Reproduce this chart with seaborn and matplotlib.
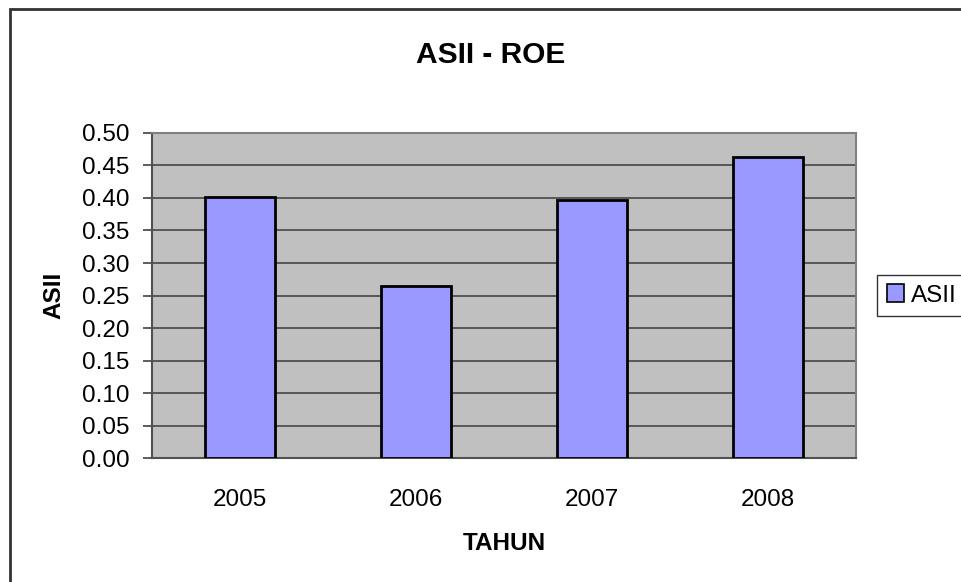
import numpy as np
import pandas as pd
import matplotlib
matplotlib.use("Agg")
import matplotlib.pyplot as plt
import seaborn as sns
from matplotlib.patches import Patch, Rectangle

# Data
years = ["2005", "2006", "2007", "2008"]
roe = [0.401, 0.264, 0.396, 0.463]
yticks = [0.00, 0.05, 0.10, 0.15, 0.20, 0.25, 0.30, 0.35, 0.40, 0.45, 0.50]

df = pd.DataFrame({"TAHUN": years, "ASII": roe})

sns.set_style("white")
plt.rcParams["font.family"] = ["Liberation Sans", "DejaVu Sans"]
plt.rcParams["text.color"] = "black"
plt.rcParams["axes.labelcolor"] = "black"
plt.rcParams["xtick.labelcolor"] = "black"
plt.rcParams["ytick.labelcolor"] = "black"

bar_color = "#9999FF"

fig = plt.figure(figsize=(9.61, 5.82), dpi=100)
ax = fig.add_axes([0.1582, 0.2122, 0.7322, 0.5598])
ax.set_facecolor("#C0C0C0")

sns.barplot(data=df, x="TAHUN", y="ASII", color=bar_color, width=0.40,
            edgecolor="black", linewidth=2, saturation=1, ax=ax, zorder=3)

ax.set_xlim(-0.5, len(years) - 0.5)
ax.set_ylim(0, 0.5)
ax.set_yticks(yticks)
ax.set_yticklabels([f"{v:.2f}" for v in yticks])
ax.yaxis.grid(True, color="#505050", linewidth=1.3, zorder=1)
ax.set_axisbelow(True)

# category boundary ticks on x axis
ax.set_xticks(np.arange(-0.5, len(years)), minor=True)
ax.tick_params(axis="x", which="major", length=0, labelsize=17.5, pad=22,
               labelcolor="black")
ax.tick_params(axis="x", which="minor", length=6.5, width=1.3, color="#505050",
               direction="out")
ax.tick_params(axis="y", length=6.5, width=1.3, color="#505050", direction="out",
               labelsize=17.5, pad=9.5, left=True, labelcolor="black")

for side in ["left", "bottom"]:
    ax.spines[side].set_color("#505050")
    ax.spines[side].set_linewidth(1.5)
for side in ["top", "right"]:
    ax.spines[side].set_color("#808080")
    ax.spines[side].set_linewidth(1.5)

ax.set_xlabel("TAHUN", fontsize=17.5, fontweight="bold", labelpad=15, color="black")
ax.set_ylabel("ASII", fontsize=17.5, fontweight="bold", labelpad=12, color="black")
fig.text(0.511, 0.905, "ASII - ROE", ha="center", va="center",
         fontsize=21.5, fontweight="bold", color="black")

# legend at right edge
handle = Patch(facecolor=bar_color, edgecolor="black", linewidth=1.2, label="ASII")
leg = fig.legend(handles=[handle], loc="center left",
                 bbox_to_anchor=(877 / 961, 1 - 295.5 / 582), fontsize=17.5,
                 frameon=True, fancybox=False, handlelength=0.7, handleheight=0.7,
                 handletextpad=0.3, borderpad=0.4, borderaxespad=0)
leg.get_frame().set_edgecolor("black")
leg.get_frame().set_linewidth(1.0)
for t in leg.get_texts():
    t.set_color("black")

# outer chart border
fig.patches.append(Rectangle((10 / 961, -0.1), 1.2, 1 - 9 / 582 + 0.1,
                             transform=fig.transFigure, fill=False,
                             edgecolor="#333333", linewidth=2))

fig.savefig("out.png", dpi=100)
